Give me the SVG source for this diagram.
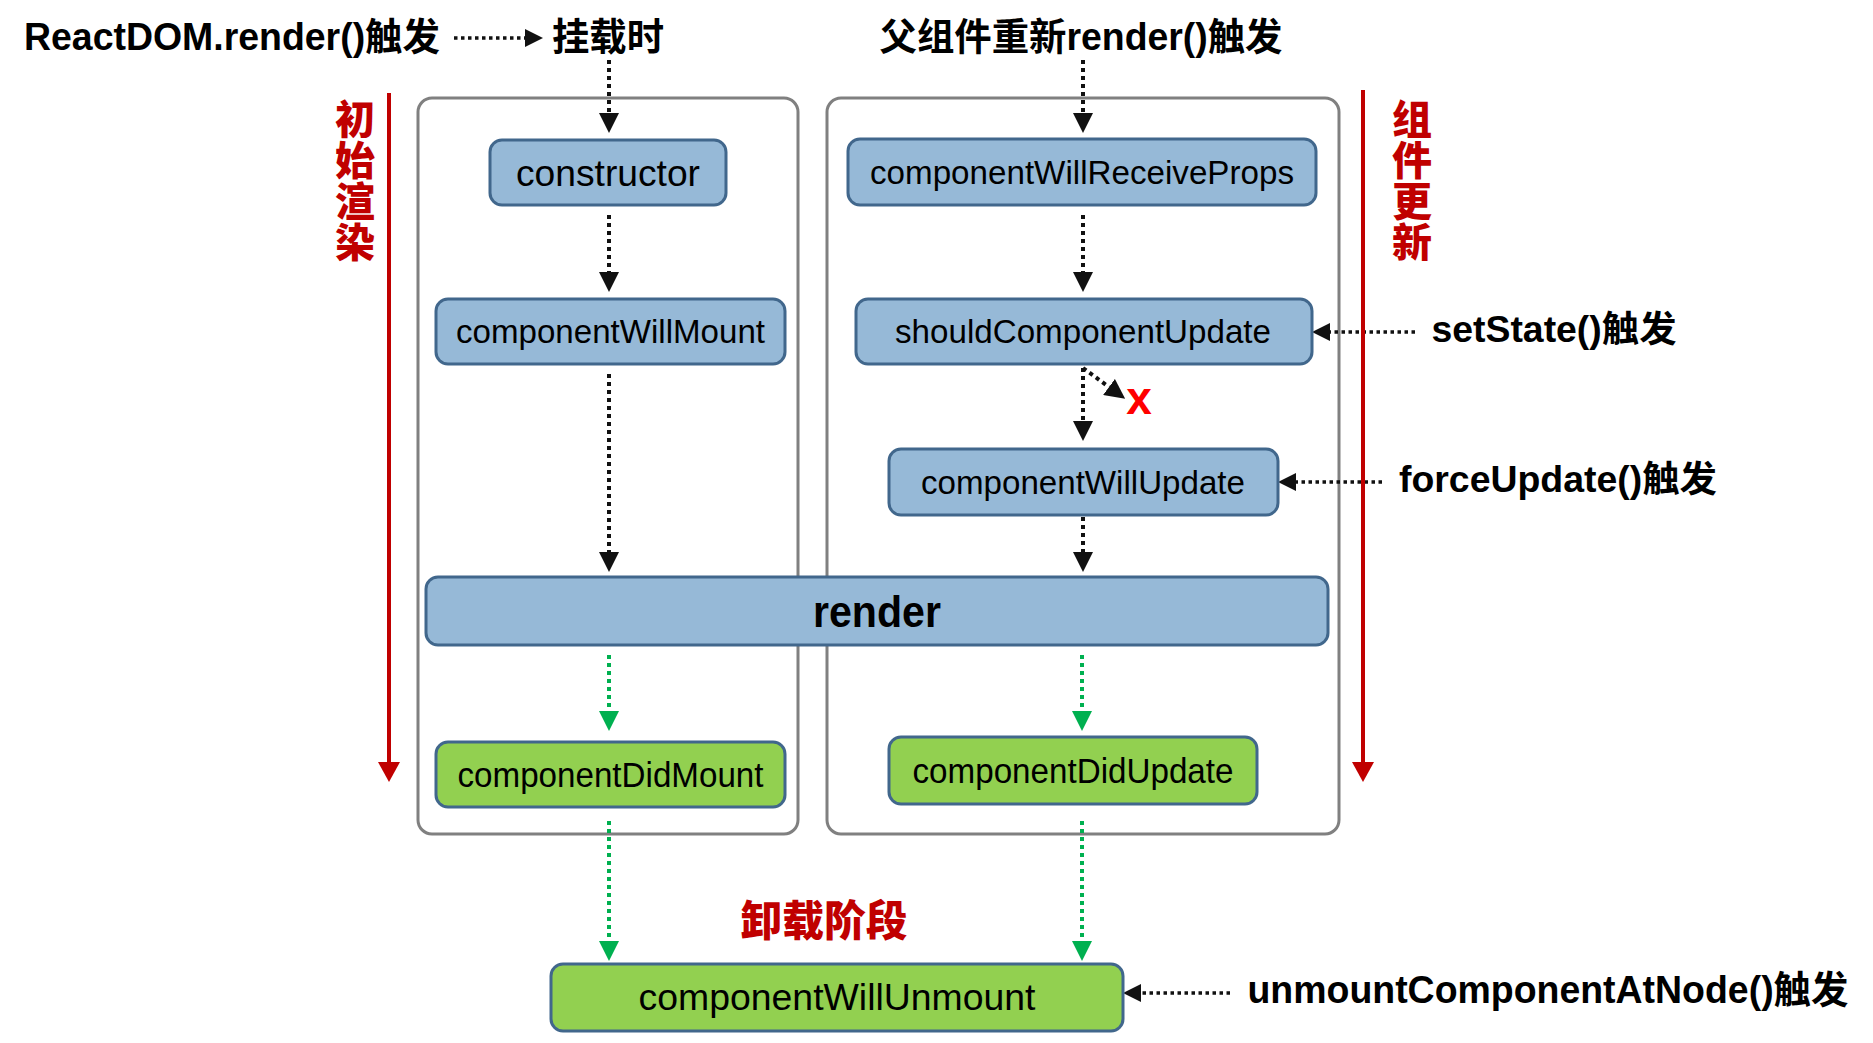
<svg xmlns="http://www.w3.org/2000/svg" width="1873" height="1043" viewBox="0 0 1873 1043">
<style>
.bg{fill:#ffffff}
.frame{fill:none;stroke:#808080;stroke-width:3}
.blue{fill:#96b9d7;stroke:#41678c;stroke-width:3}
.green{fill:#92d050;stroke:#41678c;stroke-width:3}
.nt{font-family:"Liberation Sans",Arial,sans-serif;fill:#000;text-anchor:middle}
.lab{font-family:"Liberation Sans","Noto Sans CJK SC",sans-serif;font-weight:bold;fill:#000;text-anchor:middle}
.red{font-family:"Liberation Sans","Noto Sans CJK SC",sans-serif;font-weight:900;fill:#c00000;text-anchor:middle}
.vred{font-family:"Noto Sans CJK SC",sans-serif;font-weight:900;fill:#c00000;writing-mode:vertical-rl;text-anchor:start}
.dk{fill:none;stroke:#111;stroke-width:4;stroke-dasharray:4 4}
.dks{fill:none;stroke:#111;stroke-width:3.5;stroke-dasharray:3.5 3.5}
.dg{fill:none;stroke:#00b050;stroke-width:4;stroke-dasharray:4 4}
.rl{fill:none;stroke:#c00000;stroke-width:4}
</style>
<defs>
<marker id="ah" viewBox="0 0 20 20" markerUnits="userSpaceOnUse" markerWidth="20" markerHeight="20" refX="0" refY="10" orient="auto"><path d="M0,0 L20,10 L0,20 z" fill="#111"/></marker>
<marker id="ahs" viewBox="0 0 18 18" markerUnits="userSpaceOnUse" markerWidth="18" markerHeight="18" refX="0" refY="9" orient="auto"><path d="M0,0 L18,9 L0,18 z" fill="#111"/></marker>
<marker id="ag" viewBox="0 0 20 20" markerUnits="userSpaceOnUse" markerWidth="20" markerHeight="20" refX="0" refY="10" orient="auto"><path d="M0,0 L20,10 L0,20 z" fill="#00b050"/></marker>
<marker id="ar" viewBox="0 0 20 22" markerUnits="userSpaceOnUse" markerWidth="20" markerHeight="22" refX="0" refY="11" orient="auto"><path d="M0,0 L20,11 L0,22 z" fill="#c00000"/></marker>
</defs>
<rect class="bg" x="0" y="0" width="1873" height="1043"/>

<g id="frames">
<rect id="frame-mount" class="frame" x="418" y="98" width="380" height="736" rx="14"/>
<rect id="frame-update" class="frame" x="827" y="98" width="512" height="736" rx="14"/>
</g>

<g id="connectors">
<line class="dks" x1="454" y1="38" x2="525" y2="38" marker-end="url(#ahs)"/>
<line class="dk" x1="609" y1="60" x2="609" y2="113" marker-end="url(#ah)"/>
<line class="dk" x1="609" y1="215" x2="609" y2="272" marker-end="url(#ah)"/>
<line class="dk" x1="609" y1="374" x2="609" y2="552" marker-end="url(#ah)"/>
<line class="dk" x1="1083" y1="60" x2="1083" y2="113" marker-end="url(#ah)"/>
<line class="dk" x1="1083" y1="215" x2="1083" y2="272" marker-end="url(#ah)"/>
<line class="dk" x1="1083" y1="368" x2="1083" y2="421" marker-end="url(#ah)"/>
<line class="dk" x1="1083" y1="368" x2="1109" y2="387" marker-end="url(#ah)"/>
<line class="dk" x1="1083" y1="517" x2="1083" y2="552" marker-end="url(#ah)"/>
<line class="dg" x1="609" y1="655" x2="609" y2="711" marker-end="url(#ag)"/>
<line class="dg" x1="1082" y1="655" x2="1082" y2="711" marker-end="url(#ag)"/>
<line class="dg" x1="609" y1="821" x2="609" y2="941" marker-end="url(#ag)"/>
<line class="dg" x1="1082" y1="821" x2="1082" y2="941" marker-end="url(#ag)"/>
<line class="dks" x1="1415" y1="332" x2="1330" y2="332" marker-end="url(#ahs)"/>
<line class="dks" x1="1382" y1="482" x2="1296" y2="482" marker-end="url(#ahs)"/>
<line class="dks" x1="1230" y1="993" x2="1141" y2="993" marker-end="url(#ahs)"/>
<line class="rl" x1="389" y1="93" x2="389" y2="762" marker-end="url(#ar)"/>
<line class="rl" x1="1363" y1="90" x2="1363" y2="762" marker-end="url(#ar)"/>
</g>

<g id="labels">
<text class="lab" x="232" y="50" font-size="38" textLength="416" lengthAdjust="spacingAndGlyphs">ReactDOM.render()触发</text>
<text class="lab" x="608" y="50" font-size="38" textLength="112" lengthAdjust="spacingAndGlyphs">挂载时</text>
<text class="lab" x="1081" y="50" font-size="38" textLength="403" lengthAdjust="spacingAndGlyphs">父组件重新render()触发</text>
<text class="lab" x="1554" y="342" font-size="36" textLength="245" lengthAdjust="spacingAndGlyphs">setState()触发</text>
<text class="lab" x="1558" y="492" font-size="36" textLength="318" lengthAdjust="spacingAndGlyphs">forceUpdate()触发</text>
<text class="lab" x="1548" y="1003" font-size="38" textLength="601" lengthAdjust="spacingAndGlyphs">unmountComponentAtNode()触发</text>
<text class="vred" x="355" y="99" font-size="40" letter-spacing="1">初始渲染</text>
<text class="vred" x="1412" y="99" font-size="40" letter-spacing="1">组件更新</text>
<text class="red" x="824" y="936" font-size="42" textLength="167" lengthAdjust="spacingAndGlyphs">卸载阶段</text>
<text x="1139" y="414" font-family="Liberation Sans, Arial, sans-serif" font-weight="bold" font-size="46" fill="#ff0000" text-anchor="middle">x</text>
</g>

<g id="node-constructor"><rect class="blue" x="490" y="140" width="236" height="65" rx="12"/><text class="nt" x="608" y="186" font-size="37" textLength="184" lengthAdjust="spacingAndGlyphs">constructor</text></g>
<g id="node-componentWillMount"><rect class="blue" x="436" y="299" width="349" height="65" rx="12"/><text class="nt" x="610.5" y="343" font-size="33" textLength="309" lengthAdjust="spacingAndGlyphs">componentWillMount</text></g>
<g id="node-componentWillReceiveProps"><rect class="blue" x="848" y="139" width="468" height="66" rx="12"/><text class="nt" x="1082" y="184" font-size="33" textLength="424" lengthAdjust="spacingAndGlyphs">componentWillReceiveProps</text></g>
<g id="node-shouldComponentUpdate"><rect class="blue" x="856" y="299" width="456" height="65" rx="12"/><text class="nt" x="1083" y="343" font-size="33" textLength="376" lengthAdjust="spacingAndGlyphs">shouldComponentUpdate</text></g>
<g id="node-componentWillUpdate"><rect class="blue" x="889" y="449" width="389" height="66" rx="12"/><text class="nt" x="1083" y="494" font-size="33" textLength="324" lengthAdjust="spacingAndGlyphs">componentWillUpdate</text></g>
<g id="node-render"><rect class="blue" x="426" y="577" width="902" height="68" rx="12"/><text x="877" y="627" font-family="Liberation Sans, Arial, sans-serif" font-weight="bold" font-size="44" text-anchor="middle" textLength="128" lengthAdjust="spacingAndGlyphs">render</text></g>
<g id="node-componentDidMount"><rect class="green" x="436" y="742" width="349" height="65" rx="12"/><text class="nt" x="610.5" y="787" font-size="35" textLength="306" lengthAdjust="spacingAndGlyphs">componentDidMount</text></g>
<g id="node-componentDidUpdate"><rect class="green" x="889" y="737" width="368" height="67" rx="12"/><text class="nt" x="1073" y="783" font-size="35" textLength="321" lengthAdjust="spacingAndGlyphs">componentDidUpdate</text></g>
<g id="node-componentWillUnmount"><rect class="green" x="551" y="964" width="572" height="67" rx="12"/><text class="nt" x="837" y="1010" font-size="37" textLength="397" lengthAdjust="spacingAndGlyphs">componentWillUnmount</text></g>
</svg>
